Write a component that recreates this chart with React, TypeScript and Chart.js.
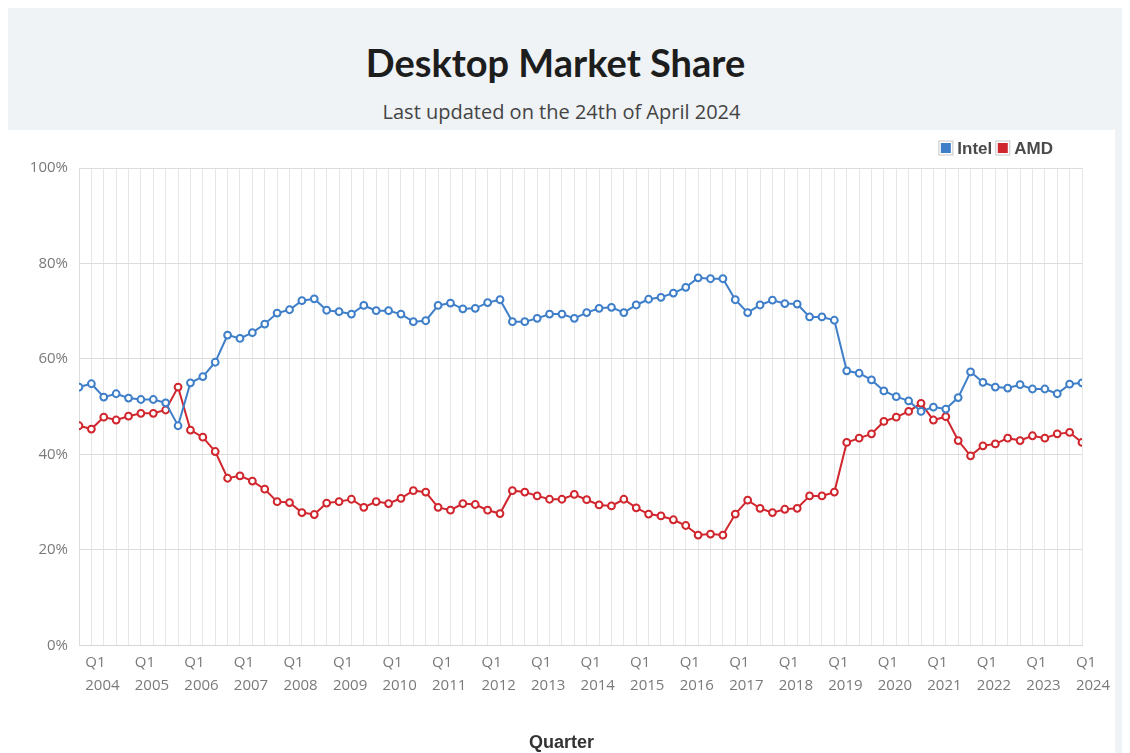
import React, { useEffect, useRef } from 'react';
import { Chart, registerables } from 'chart.js';

Chart.register(...registerables);

const titleText = 'Desktop Market Share';
const subtitleText = 'Last updated on the 24th of April 2024';
const xAxisTitle = 'Quarter';

// Category axis: quarters from Q3 2003 up to Q1 2024 (last one is an axis label only)
const firstYear = 2003;
const firstQuarter = 3;
const quarterCount = 83;
const quarters: string[] = [];
for (let i = 0; i < quarterCount; i++) {
  const q = ((firstQuarter - 1 + i) % 4) + 1;
  const y = firstYear + Math.floor((firstQuarter - 1 + i) / 4);
  quarters.push(`Q${q} ${y}`);
}

const intelShare = [
  54.1, 54.8, 52.0, 52.7, 51.8, 51.5, 51.5, 50.8, 46.0, 55.0,
  56.3, 59.3, 65.0, 64.3, 65.5, 67.3, 69.6, 70.3, 72.2, 72.6,
  70.2, 69.9, 69.4, 71.2, 70.1, 70.1, 69.4, 67.8, 68.0, 71.2,
  71.7, 70.5, 70.6, 71.8, 72.4, 67.8, 67.8, 68.5, 69.4, 69.4,
  68.5, 69.7, 70.6, 70.8, 69.7, 71.3, 72.5, 72.9, 73.8, 75.0,
  77.0, 76.8, 76.8, 72.4, 69.7, 71.3, 72.3, 71.6, 71.5, 68.8,
  68.8, 68.1, 57.5, 57.0, 55.6, 53.3, 52.1, 51.2, 49.0, 49.9,
  49.5, 51.9, 57.3, 55.1, 54.1, 53.9, 54.6, 53.7, 53.7, 52.7,
  54.7, 55.0,
];

const amdShare = [
  46.0, 45.3, 47.8, 47.2, 48.0, 48.6, 48.6, 49.3, 54.1, 45.1,
  43.6, 40.6, 35.0, 35.5, 34.4, 32.7, 30.1, 29.9, 27.8, 27.4,
  29.8, 30.1, 30.6, 28.9, 30.1, 29.7, 30.8, 32.4, 32.1, 28.9,
  28.3, 29.7, 29.5, 28.3, 27.6, 32.4, 32.1, 31.3, 30.6, 30.6,
  31.6, 30.5, 29.4, 29.2, 30.6, 28.8, 27.5, 27.1, 26.3, 25.1,
  23.1, 23.3, 23.1, 27.5, 30.4, 28.7, 27.8, 28.5, 28.7, 31.3,
  31.3, 32.1, 42.5, 43.4, 44.3, 46.9, 47.8, 49.0, 50.7, 47.2,
  47.9, 42.9, 39.7, 41.8, 42.2, 43.4, 42.9, 43.9, 43.4, 44.3,
  44.6, 42.5,
];

const yTickValues = [0, 20, 40, 60, 80, 100];

const intelColor = '#3f7fc9';
const amdColor = '#d0262d';

const overlayPlugin = {
  id: 'cornerLegendAndTitle',
  afterDraw(chart: any) {
    const ctx = chart.ctx;
    ctx.save();
    // legend, top right
    ctx.font = 'bold 17px "Liberation Sans", Arial, sans-serif';
    ctx.textBaseline = 'middle';
    ctx.textAlign = 'left';
    const cy = 18;
    let x = chart.chartArea.right - 29;
    const sets = chart.data.datasets;
    for (let i = sets.length - 1; i >= 0; i--) {
      const label = sets[i].label as string;
      const w = ctx.measureText(label).width;
      x -= w;
      ctx.fillStyle = '#4a4a4a';
      ctx.fillText(label, x, cy + 1);
      x -= 6 + 11;
      ctx.fillStyle = '#ffffff';
      ctx.fillRect(x - 1, cy - 6.5, 13, 13);
      ctx.strokeStyle = '#c8c8c8';
      ctx.lineWidth = 1;
      ctx.strokeRect(x - 1.5, cy - 7, 14, 14);
      ctx.fillStyle = sets[i].borderColor;
      ctx.fillRect(x + 0.5, cy - 5, 10, 10);
      x -= 5;
    }
    // x axis title, centred on the panel
    ctx.font = 'bold 18px "Liberation Sans", Arial, sans-serif';
    ctx.fillStyle = '#333333';
    ctx.textAlign = 'center';
    ctx.fillText(xAxisTitle, chart.width / 2, 613);
    ctx.restore();
  },
};

function MarketChart() {
  const ref = useRef<HTMLCanvasElement | null>(null);
  useEffect(() => {
    if (!ref.current) return;
    const maxIndex = intelShare.length - 1;
    const chart = new Chart(ref.current, {
      type: 'line',
      data: {
        datasets: [
          {
            label: 'Intel',
            data: intelShare.map((v, i) => ({ x: i, y: v })),
            borderColor: intelColor,
            backgroundColor: '#ffffff',
            pointBackgroundColor: '#ffffff',
            pointBorderColor: intelColor,
            borderWidth: 2,
            pointRadius: 3.4,
            pointBorderWidth: 2,
            tension: 0,
          },
          {
            label: 'AMD',
            data: amdShare.map((v, i) => ({ x: i, y: v })),
            borderColor: amdColor,
            backgroundColor: '#ffffff',
            pointBackgroundColor: '#ffffff',
            pointBorderColor: amdColor,
            borderWidth: 2,
            pointRadius: 3.4,
            pointBorderWidth: 2,
            tension: 0,
          },
        ],
      },
      options: {
        animation: false,
        responsive: false,
        maintainAspectRatio: false,
        layout: { padding: { top: 38, right: 33, left: 0, bottom: 52.7 } },
        plugins: {
          legend: { display: false },
          tooltip: { enabled: false },
        },
        scales: {
          x: {
            type: 'linear',
            min: 0,
            max: maxIndex,
            bounds: 'data',
            afterBuildTicks: (axis: any) => {
              axis.ticks = quarters.map((_, i) => ({ value: i }));
            },
            afterFit: (axis: any) => {
              axis.height = 55;
              axis.paddingLeft = 0;
              axis.paddingRight = 0;
            },
            grid: {
              color: (c: any) => (c.tick && c.tick.value > maxIndex ? 'rgba(0,0,0,0)' : '#e6e6e6'),
              lineWidth: 1,
              drawTicks: false,
            },
            border: { color: '#d6d6d6' },
            ticks: {
              autoSkip: false,
              maxRotation: 0,
              minRotation: 0,
              align: 'start',
              labelOffset: -18.5,
              padding: 6,
              color: '#7a7a7a',
              font: { family: '"Open Sans", sans-serif', size: 15, lineHeight: 1.55 },
              callback: (value: any) => {
                const q = quarters[value as number];
                return q && q.startsWith('Q1') ? q.split(' ') : '';
              },
            },
          },
          y: {
            min: 0,
            max: 100,
            afterBuildTicks: (axis: any) => {
              axis.ticks = yTickValues.map((v) => ({ value: v }));
            },
            afterFit: (axis: any) => {
              axis.width = 71;
            },
            grid: { color: '#dcdcdc', drawTicks: false },
            border: { color: '#dcdcdc' },
            ticks: {
              padding: 11,
              color: '#7a7a7a',
              font: { family: '"Open Sans", sans-serif', size: 15 },
              callback: (value: any) => `${value}%`,
            },
          },
        },
      },
      plugins: [overlayPlugin],
    });
    return () => chart.destroy();
  }, []);
  return <canvas ref={ref} width={1107} height={623} style={{ display: 'block', width: 1107, height: 623 }} />;
}

export default function App() {
  return (
    <div
      style={{
        position: 'relative',
        width: 1122,
        height: 745,
        background: '#eff3f6',
        overflow: 'hidden',
      }}
    >
      <div
        style={{
          position: 'absolute',
          left: 0,
          top: 0,
          width: 1107,
          height: 122,
          textAlign: 'center',
        }}
      >
        <div
          style={{
            position: 'absolute',
            left: 0,
            right: 12,
            top: 31,
            fontFamily: 'Lato, "Open Sans", sans-serif',
            fontWeight: 700,
            fontSize: 38,
            lineHeight: '46px',
            color: '#1d1d1d',
          }}
        >
          {titleText}
        </div>
        <div
          style={{
            position: 'absolute',
            left: 0,
            right: 0,
            top: 91,
            fontFamily: '"Open Sans", sans-serif',
            fontSize: 20,
            lineHeight: '26px',
            color: '#444444',
          }}
        >
          {subtitleText}
        </div>
      </div>
      <div style={{ position: 'absolute', left: 0, top: 122, width: 1107, height: 623, background: '#ffffff' }}>
        <MarketChart />
      </div>
    </div>
  );
}
